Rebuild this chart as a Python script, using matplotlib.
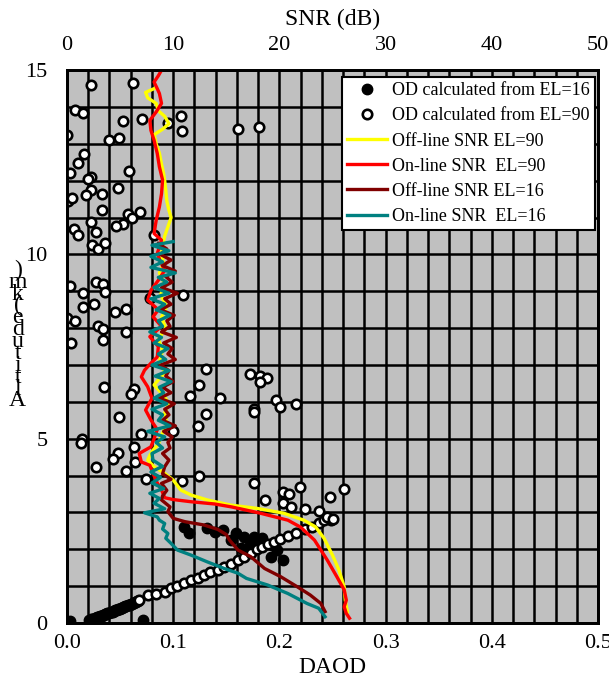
import numpy as np
import matplotlib
matplotlib.use("Agg")
from matplotlib import pyplot as plt
from matplotlib.ticker import MultipleLocator

plt.rcParams['font.family'] = ['Liberation Serif', 'DejaVu Serif']

# OD calculated from EL=16 (filled black)
od16_daod = [0.003, 0.072,
             0.021, 0.022, 0.023, 0.024, 0.025, 0.026, 0.027, 0.028, 0.029, 0.030, 0.031, 0.032,
             0.033, 0.034, 0.035, 0.036, 0.037, 0.038, 0.039, 0.040, 0.041, 0.042, 0.043, 0.044,
             0.045, 0.046, 0.047, 0.048, 0.049, 0.050, 0.051, 0.052, 0.053, 0.054, 0.055, 0.056,
             0.057, 0.058, 0.059, 0.060, 0.061, 0.062, 0.063, 0.064, 0.065, 0.066, 0.067,
             0.110, 0.115, 0.132, 0.139, 0.147, 0.154, 0.159, 0.167, 0.176, 0.172, 0.179, 0.184,
             0.192, 0.198, 0.203, 0.193, 0.164]
od16_alt = [0.05, 0.08,
            0.08, 0.09, 0.10, 0.11, 0.12, 0.13, 0.14, 0.15, 0.16, 0.17, 0.18, 0.19,
            0.20, 0.21, 0.22, 0.24, 0.25, 0.26, 0.27, 0.28, 0.29, 0.30, 0.31, 0.33,
            0.34, 0.35, 0.36, 0.37, 0.38, 0.39, 0.40, 0.42, 0.43, 0.44, 0.45, 0.47,
            0.48, 0.49, 0.50, 0.51, 0.52, 0.54, 0.55, 0.56, 0.57, 0.59, 0.60,
            2.61, 2.44, 2.58, 2.47, 2.52, 2.25, 2.44, 2.34, 2.34, 2.12, 2.07, 2.31,
            1.80, 1.98, 1.71, 2.12, 2.03]

# OD calculated from EL=90 (open circles)
od90_daod = [0.023, 0.062, 0.008, 0.015, 0.053, 0.071, 0.095, 0.107, 0.108, 0.161, 0.181, 0.000,
             0.040, 0.049, 0.016, 0.010, 0.003, 0.058, 0.023, 0.020, 0.048, 0.023, 0.018, 0.033,
             0.001, 0.005, 0.033, 0.057, 0.069, 0.061, 0.053, 0.046, 0.023, 0.007, 0.010, 0.027,
             0.024, 0.029, 0.036, 0.082, 0.003, 0.027, 0.034, 0.036, 0.015, 0.015, 0.025, 0.000,
             0.008, 0.045, 0.056, 0.109, 0.078, 0.029, 0.034, 0.056, 0.004, 0.034, 0.131, 0.035,
             0.063, 0.060, 0.124, 0.116, 0.144, 0.131, 0.049, 0.123, 0.100, 0.070, 0.014, 0.013,
             0.063, 0.048, 0.043, 0.064, 0.027, 0.056, 0.074, 0.108, 0.124, 0.172, 0.182, 0.188,
             0.182, 0.176, 0.176, 0.197, 0.201, 0.216, 0.176, 0.219, 0.203, 0.209, 0.261, 0.248,
             0.186, 0.203, 0.211, 0.224, 0.237, 0.249,
             0.068, 0.076, 0.084, 0.092, 0.098, 0.104, 0.110, 0.117, 0.123, 0.129, 0.135, 0.142,
             0.148, 0.154, 0.161, 0.167, 0.173, 0.179, 0.184, 0.189, 0.195, 0.201, 0.208, 0.216,
             0.224, 0.231, 0.237, 0.242, 0.245, 0.250]
od90_alt = [14.59, 14.66, 13.91, 13.84, 13.61, 13.69, 13.57, 13.75, 13.34, 13.40, 13.45, 13.24,
            13.10, 13.16, 12.73, 12.48, 12.20, 12.27, 12.09, 12.04, 11.81, 11.74, 11.61, 11.65,
            11.45, 11.52, 11.20, 11.09, 11.14, 10.98, 10.84, 10.78, 10.88, 10.68, 10.52, 10.61,
            10.25, 10.16, 10.31, 10.52, 9.14, 9.25, 9.19, 8.99, 8.96, 8.58, 8.67, 8.29,
            8.20, 8.43, 8.52, 8.90, 8.81, 8.06, 7.99, 7.90, 7.60, 7.69, 6.89, 6.41,
            6.34, 6.21, 6.47, 6.16, 6.11, 5.66, 5.58, 5.35, 5.22, 5.13, 4.98, 4.89,
            4.78, 4.62, 4.44, 4.37, 4.22, 4.13, 3.92, 3.85, 3.99, 6.77, 6.70, 6.64,
            6.54, 5.82, 5.73, 6.05, 5.87, 5.94, 3.81, 3.70, 3.56, 3.50, 3.63, 3.41,
            3.34, 3.25, 3.16, 3.09, 3.04, 2.79,
            0.62, 0.76, 0.79, 0.85, 0.95, 1.01, 1.08, 1.17, 1.22, 1.30, 1.38, 1.44,
            1.53, 1.60, 1.71, 1.80, 1.90, 2.00, 2.07, 2.14, 2.20, 2.28, 2.36, 2.45,
            2.55, 2.60, 2.71, 2.79, 2.87, 2.82]

# Off-line SNR EL=90
off90_alt = [14.50, 14.40, 14.25, 14.10, 13.90, 13.75, 13.55, 13.40, 13.25, 13.00, 12.75, 12.45,
             12.20, 12.00, 11.75, 11.45, 11.20, 11.00, 10.75, 10.50, 10.25, 10.00, 9.75, 9.50,
             9.20, 8.90, 8.60, 8.30, 8.00, 7.70, 7.40, 7.10, 6.80, 6.46, 6.20, 5.96, 5.70, 5.40,
             5.10, 4.85, 4.69, 4.55, 4.42, 4.24, 4.06, 3.88, 3.61, 3.47, 3.34, 3.20, 3.11, 2.98,
             2.79, 2.61, 2.30, 1.84, 1.44, 0.98, 0.62, 0.30]
off90_snr = [8.2, 7.4, 7.6, 8.4, 8.6, 9.2, 9.6, 9.0, 8.2, 8.4, 8.7, 8.9,
             9.1, 9.2, 9.3, 9.4, 9.6, 9.8, 9.5, 9.2, 9.0, 8.9, 9.1, 8.7,
             9.2, 8.8, 9.4, 8.9, 9.3, 8.6, 9.0, 8.7, 9.2, 8.2, 9.0, 9.6, 9.2, 9.4,
             8.9, 8.6, 8.1, 7.8, 7.6, 8.2, 9.2, 10.0, 10.7, 11.7, 13.2, 15.4, 17.9, 20.4,
             22.3, 23.4, 24.2, 25.0, 25.6, 26.1, 26.2, 26.4]

# On-line SNR EL=90
on90_alt = [15.00, 14.85, 14.68, 14.50, 14.37, 14.10, 13.87, 13.64, 13.37, 13.10, 12.74, 12.38,
            12.02, 11.65, 11.29, 10.93, 10.57, 10.39, 10.03, 9.80, 9.57, 9.30, 9.03, 8.76,
            8.50, 8.31, 8.05, 7.77, 7.50, 7.22, 7.05, 6.86, 6.68, 6.41, 6.10, 5.78, 5.51, 5.25,
            5.00, 4.78, 4.60, 4.37, 4.28, 4.06, 3.80, 3.61, 3.40, 3.35, 3.29, 3.23, 3.15, 2.98,
            2.79, 2.60, 2.25, 1.71, 1.26, 0.90, 0.62, 0.44, 0.26, 0.13]
on90_snr = [8.9, 8.6, 8.2, 8.5, 8.7, 8.9, 8.4, 7.8, 7.9, 8.2, 8.5, 8.7,
            9.0, 8.9, 8.7, 8.4, 8.2, 8.9, 8.5, 8.8, 9.2, 8.6, 7.9, 7.6,
            8.6, 8.1, 8.9, 7.8, 8.6, 8.5, 7.9, 7.3, 7.0, 7.6, 8.0, 7.4, 7.9, 8.5,
            8.2, 7.9, 6.8, 7.0, 7.8, 8.1, 8.5, 8.9, 9.2, 10.0, 11.7, 13.9, 15.5, 18.2,
            20.8, 22.0, 23.3, 24.5, 25.4, 26.1, 26.3, 26.1, 26.3, 26.6]

# Off-line SNR EL=16
off16_alt = [10.30, 10.15, 10.00, 9.85, 9.70, 9.55, 9.40, 9.25, 9.10, 8.95, 8.80, 8.65,
             8.50, 8.35, 8.20, 8.05, 7.90, 7.75, 7.60, 7.45, 7.30, 7.15, 7.00, 6.85,
             6.70, 6.55, 6.40, 6.25, 6.10, 5.95, 5.80, 5.65, 5.50, 5.35, 5.20, 5.05,
             4.90, 4.75, 4.60, 4.42, 4.24, 4.05, 3.90, 3.79, 3.60, 3.45, 3.34, 3.15,
             3.02, 2.84, 2.75, 2.66, 2.54, 2.40, 2.25, 1.98, 1.80, 1.48, 1.26, 0.98,
             0.76, 0.53, 0.31]
off16_snr = [8.6, 9.4, 8.8, 9.8, 9.0, 10.2, 9.3, 9.9, 8.9, 10.4, 9.2, 9.8,
             8.8, 10.1, 9.4, 9.7, 8.9, 10.3, 9.1, 9.9, 9.5, 10.2, 8.8, 9.6,
             9.3, 10.0, 9.0, 9.8, 8.7, 10.1, 9.2, 9.6, 9.0, 10.2, 9.1, 9.9,
             9.5, 9.7, 9.0, 9.6, 9.2, 9.0, 9.8, 8.9, 9.4, 9.0, 8.9, 9.7,
             9.5, 10.0, 11.1, 12.9, 14.2, 15.0, 15.3, 16.1, 17.3, 18.6, 20.1, 21.7,
             22.9, 23.9, 24.3]

# On-line SNR EL=16
on16_alt = [10.35, 10.25, 10.10, 9.95, 9.80, 9.65, 9.50, 9.38, 9.25, 9.10, 8.95, 8.80,
            8.65, 8.50, 8.35, 8.20, 8.05, 7.90, 7.75, 7.60, 7.45, 7.30, 7.15, 7.00,
            6.85, 6.70, 6.55, 6.40, 6.25, 6.10, 5.95, 5.80, 5.65, 5.50, 5.35, 5.20,
            5.05, 4.90, 4.75, 4.60, 4.42, 4.25, 4.10, 3.95, 3.80, 3.65, 3.52, 3.38,
            3.25, 3.10, 2.99, 2.88, 2.79, 2.70, 2.55, 2.43, 2.30, 2.16, 1.98, 1.84,
            1.66, 1.48, 1.35, 1.21, 1.03, 0.80, 0.53, 0.40, 0.17]
on16_snr = [10.0, 8.0, 9.6, 7.9, 9.0, 7.9, 10.2, 8.6, 9.4, 8.2, 9.6, 7.9,
            9.2, 8.4, 9.7, 8.6, 9.0, 7.8, 8.9, 8.2, 9.5, 8.6, 9.3, 8.0,
            9.6, 8.3, 9.8, 8.7, 9.1, 8.2, 9.4, 8.0, 9.0, 8.6, 9.7, 7.6,
            9.2, 8.4, 9.0, 8.0, 8.1, 9.0, 7.9, 8.8, 8.0, 9.1, 7.8, 8.7,
            8.2, 9.2, 7.3, 8.5, 8.7, 9.2, 9.0, 9.5, 9.3, 9.8, 10.4, 11.7,
            13.2, 14.8, 16.1, 16.9, 18.9, 20.8, 22.6, 23.7, 24.3]

daod_ticks = [0.0, 0.1, 0.2, 0.3, 0.4, 0.5]
snr_ticks = [0, 10, 20, 30, 40, 50]
alt_ticks = [0, 5, 10, 15]

fig = plt.figure(figsize=(6.09, 6.82), dpi=100)
ax = fig.add_axes([0.110, 0.0865, 0.872, 0.8105])
ax.set_facecolor('#c0c0c0')
ax.set_xlim(0, 0.5)
ax.set_ylim(0, 15)
ax.set_xticks(daod_ticks)
ax.set_xticklabels(['%.1f' % t for t in daod_ticks])
ax.set_yticks(alt_ticks)
ax.xaxis.set_minor_locator(MultipleLocator(0.02))
ax.yaxis.set_minor_locator(MultipleLocator(1))
ax.grid(which='both', color='black', lw=1.8)
ax.set_axisbelow(True)
ax.tick_params(which='both', length=0, labelsize=16)
ax.tick_params(axis='x', pad=8)
ax.tick_params(axis='y', pad=14)
for s in ax.spines.values():
    s.set_linewidth(2)
ax.set_xlabel('DAOD', fontsize=17, labelpad=3)

h1, = ax.plot(od16_daod, od16_alt, 'o', color='black', ms=7.5, label='OD calculated from EL=16', zorder=3)
h2, = ax.plot(od90_daod, od90_alt, 'o', mfc='white', mec='black', mew=1.9, ms=6.8,
              label='OD calculated from EL=90', zorder=3)

ax2 = ax.twiny()
ax2.set_xlim(0, 50)
ax2.set_xticks(snr_ticks)
ax2.tick_params(length=0, labelsize=16, pad=11)
ax2.set_xlabel('SNR (dB)', fontsize=17, labelpad=8)
for s in ax2.spines.values():
    s.set_linewidth(2)

h3, = ax2.plot(off90_snr, off90_alt, color='#ffff00', lw=2.4, label='Off-line SNR EL=90')
h4, = ax2.plot(on90_snr, on90_alt, color='#ff0000', lw=2.4, label='On-line SNR  EL=90')
h5, = ax2.plot(off16_snr, off16_alt, color='#800000', lw=2.4, label='Off-line SNR EL=16')
h6, = ax2.plot(on16_snr, on16_alt, color='#008080', lw=2.4, label='On-line SNR  EL=16')

leg = ax2.legend(handles=[h1, h2, h3, h4, h5, h6], loc='upper right', bbox_to_anchor=(0.995, 0.988),
                 borderaxespad=0, fontsize=13, frameon=True, fancybox=False, framealpha=1,
                 edgecolor='black', handlelength=2.2, handletextpad=0.3, labelspacing=0.45,
                 borderpad=0.3)
leg.get_frame().set_linewidth(1.5)

fig.text(0.029, 0.508, '\n'.join(')mk(edutitlA'), fontsize=17, ha='center', va='center',
         linespacing=0.43)

plt.savefig('out.png', dpi=100)
